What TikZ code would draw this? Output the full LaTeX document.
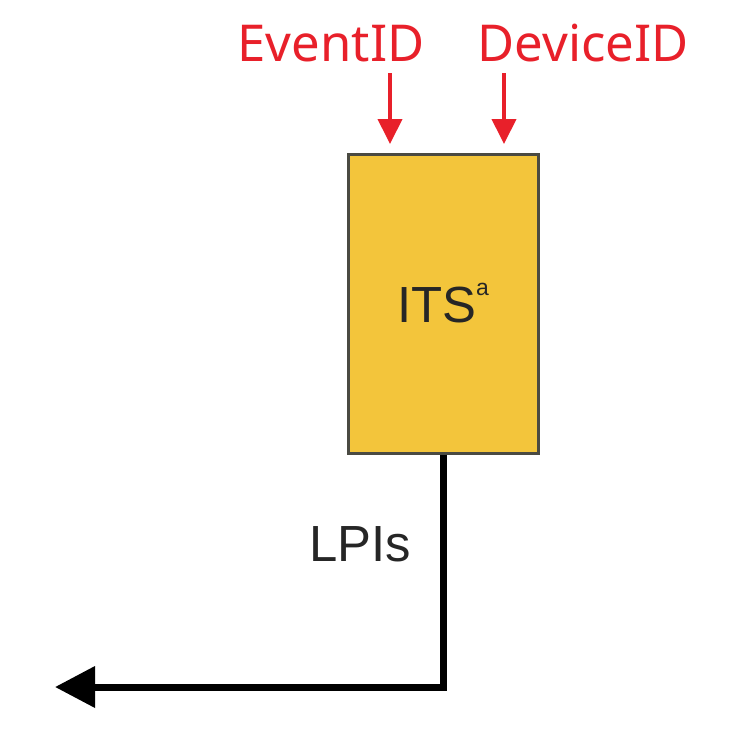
\documentclass[tikz,border=0pt]{standalone}
\usepackage{fontspec}
\setmainfont{Liberation Sans}
\newfontfamily\lblfont{Noto Sans}
\usetikzlibrary{arrows.meta}
\definecolor{lblred}{HTML}{E8202A}
\definecolor{boxfill}{HTML}{F3C53B}
\definecolor{boxline}{HTML}{4A4A42}
\definecolor{txtdark}{HTML}{262626}
\tikzset{
  idlabel/.style={text=lblred, inner sep=0pt, anchor=base, font=\lblfont\fontsize{51}{51}\selectfont},
  idarrow/.style={draw=lblred, line width=4bp, -{Triangle[length=25bp,width=24bp]}},
  itsbox/.style={draw=boxline, fill=boxfill, line width=3bp, minimum width=190bp, minimum height=298bp, inner sep=0pt},
  darktext/.style={text=txtdark, inner sep=0pt, anchor=base, font=\fontsize{51}{51}\selectfont},
  lpiarrow/.style={draw=black, line width=7bp, -{Triangle[length=40bp,width=40bp]}}
}
\begin{document}
\begin{tikzpicture}[x=1bp,y=-1bp]
\useasboundingbox (0,0) rectangle (750,738);
\node[idlabel] (ev) at (331,62) {EventID};
\node[idlabel] (dev) at (583,62) {DeviceID};
\node[itsbox] (its) at (443,304) {};
\node[darktext] (itstext) at (443,322) {ITS\raisebox{27bp}{\fontsize{23}{23}\selectfont a}};
\node[darktext] (lpi) at (360,561) {LPIs};
\coordinate (evstart) at (390,73);
\coordinate (evtip) at (390,144);
\coordinate (devstart) at (504,73);
\coordinate (devtip) at (504,144);
\coordinate (lpiend) at (55,687);
\draw[idarrow] (evstart) -- (evtip);
\draw[idarrow] (devstart) -- (devtip);
\draw[lpiarrow] (its.south) |- (lpiend);
\end{tikzpicture}
\end{document}
